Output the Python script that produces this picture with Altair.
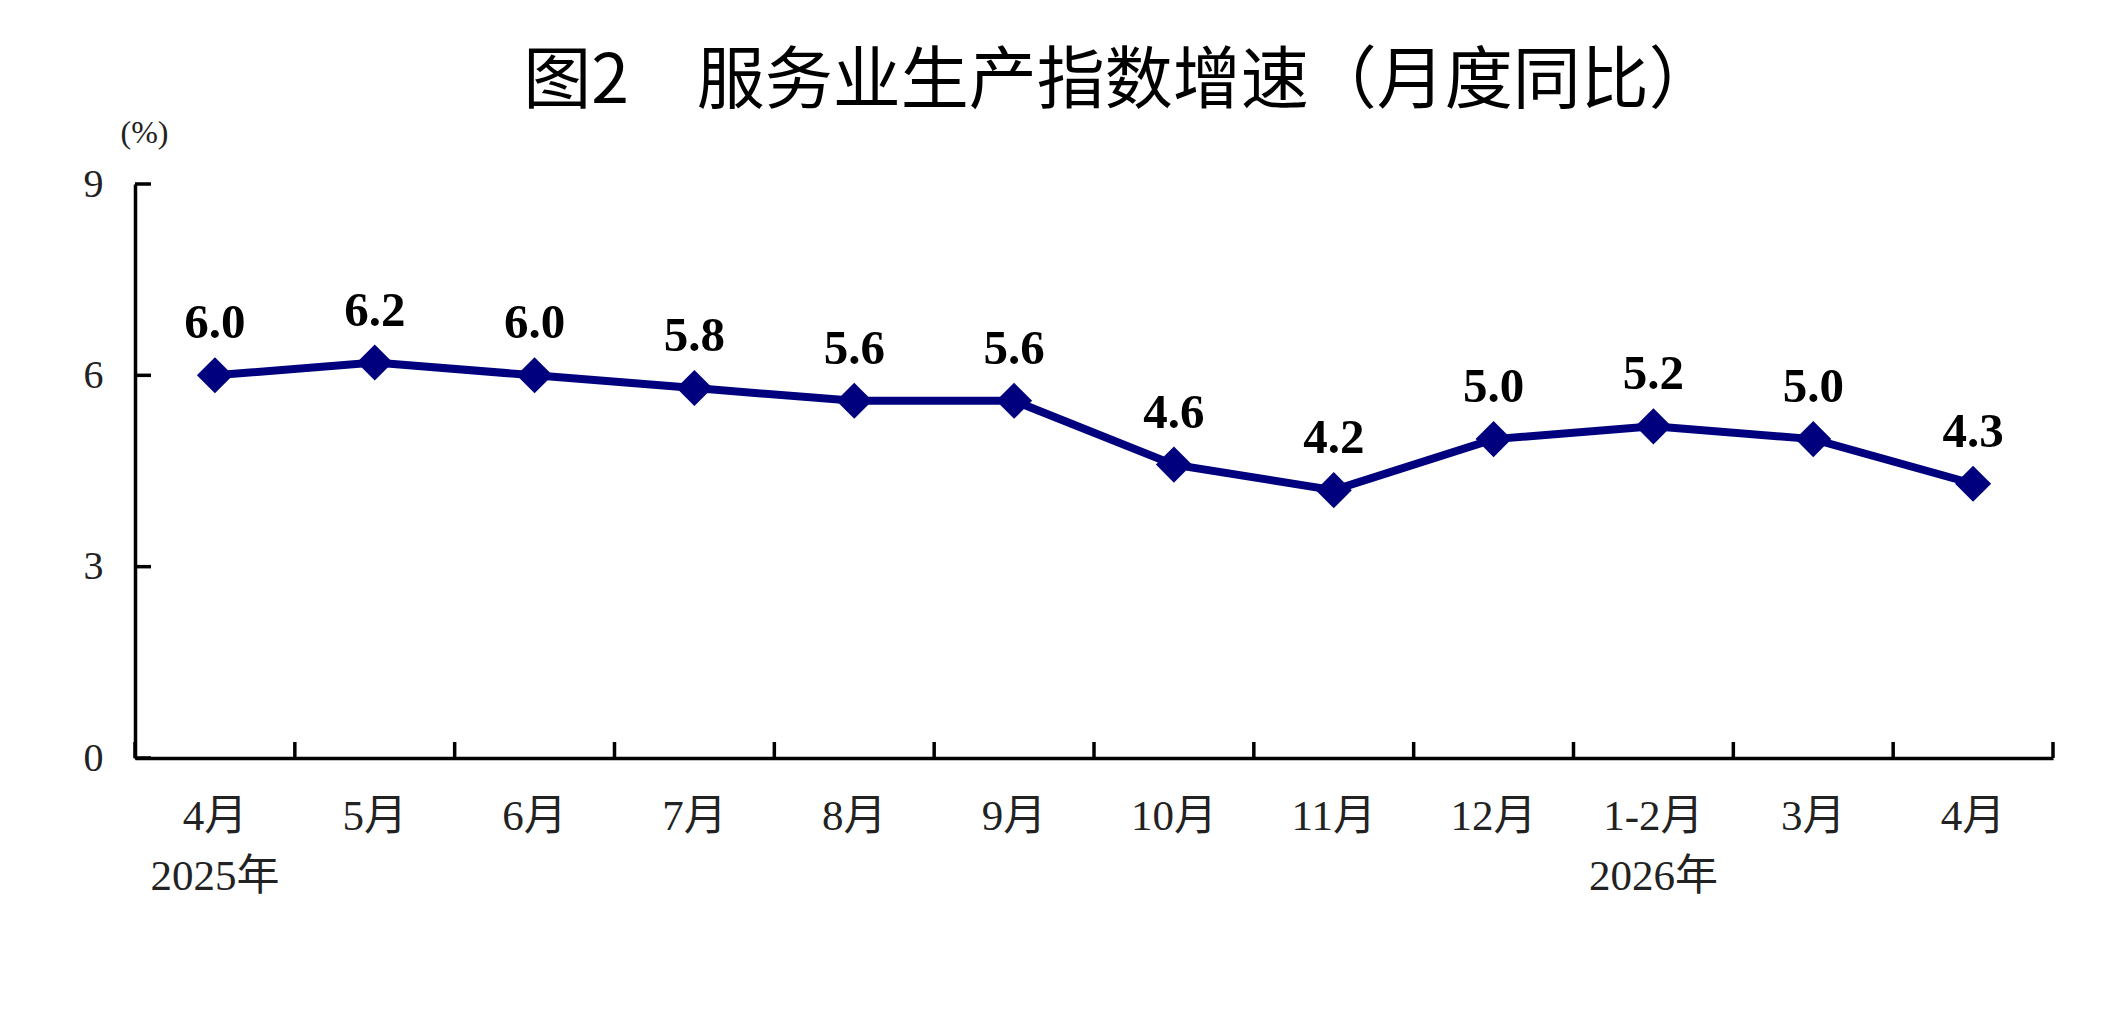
import altair as alt
import pandas as pd

months = ["4月", "5月", "6月", "7月", "8月", "9月", "10月", "11月", "12月", "1-2月", "3月", "4月"]
years = ["2025年", "", "", "", "", "", "", "", "", "2026年", "", ""]
values = [6.0, 6.2, 6.0, 5.8, 5.6, 5.6, 4.6, 4.2, 5.0, 5.2, 5.0, 4.3]
y_ticks = [0, 3, 6, 9]

TITLE = "图2　服务业生产指数增速（月度同比）"
UNIT = "(%)"

keys = [m + ("|" + y if y else "") for m, y in zip(months, years)]
df = pd.DataFrame({"key": keys, "value": values, "label": [f"{v:.1f}" for v in values]})
tick_df = pd.DataFrame({"key": keys})
ytick_df = pd.DataFrame({"t": y_ticks})

W, H = 1918, 574
SERIF = "Liberation Serif, Times New Roman, Noto Sans CJK SC"
NAVY = "#00007f"

xscale = alt.Scale(type="band", paddingInner=0, paddingOuter=0)
yscale = alt.Scale(domain=[0, 9], nice=False)

x_enc = alt.X(
    "key:N", sort=keys, scale=xscale, bandPosition=0.5,
    axis=alt.Axis(
        title=None, ticks=False, grid=False, domain=True, domainColor="black",
        domainWidth=3.5, labelAngle=0, labelAlign="center", labelFont=SERIF,
        labelFontSize=43, labelColor="#222", labelPadding=37, labelLineHeight=60,
        labelBaseline="top", labelFlush=False,
        labelExpr="split(datum.value, '|')",
    ),
)
y_enc = alt.Y(
    "value:Q", scale=yscale,
    axis=alt.Axis(
        values=y_ticks, format="d", ticks=False, grid=False, domain=True,
        domainColor="black", domainWidth=3.5, labelFont=SERIF, labelFontSize=40,
        labelColor="#222", labelPadding=32, title=UNIT, titleAngle=0,
        titleFont=SERIF, titleFontSize=32, titleFontWeight="normal",
        titleColor="#222", titleX=9, titleY=-52, titleAlign="center",
        titleBaseline="middle",
    ),
)

base = alt.Chart(df)
line = base.mark_line(color=NAVY, strokeWidth=8).encode(x=x_enc, y=y_enc)
pts = base.mark_point(shape="diamond", filled=True, color=NAVY, size=1300, opacity=1).encode(
    x=alt.X("key:N", sort=keys, scale=xscale, bandPosition=0.5),
    y=alt.Y("value:Q", scale=yscale),
)
labels = base.mark_text(
    dy=-37, fontSize=49, fontWeight="bold", font=SERIF, color="black", baseline="alphabetic"
).encode(
    x=alt.X("key:N", sort=keys, scale=xscale, bandPosition=0.5),
    y=alt.Y("value:Q", scale=yscale),
    text="label:N",
)

xticks = alt.Chart(tick_df).mark_rule(color="black", strokeWidth=3.5).encode(
    x=alt.X("key:N", sort=keys, scale=xscale, bandPosition=0),
    y=alt.value(H),
    y2=alt.value(H - 16),
)
xtick_end = alt.Chart(tick_df.tail(1)).mark_rule(color="black", strokeWidth=3.5).encode(
    x=alt.X("key:N", sort=keys, scale=xscale, bandPosition=1),
    y=alt.value(H),
    y2=alt.value(H - 16),
)
yticks = alt.Chart(ytick_df).mark_rule(color="black", strokeWidth=3.5).encode(
    y=alt.Y("t:Q", scale=yscale),
    x=alt.value(0),
    x2=alt.value(16),
)

chart = alt.layer(xticks, xtick_end, yticks, line, pts, labels).properties(
    width=W, height=H,
    title=alt.TitleParams(
        TITLE, font="Noto Sans CJK SC", fontSize=68, fontWeight="normal",
        color="black", anchor="middle", dx=26, dy=7, offset=6,
    ),
    autosize=alt.AutoSizeParams(type="none"),
    padding={"left": 127, "top": 176, "right": 50, "bottom": 200},
).configure(background="white", view=alt.ViewConfig(stroke=None))

chart.save("out.html", embed_options={"renderer": "svg", "actions": False})
